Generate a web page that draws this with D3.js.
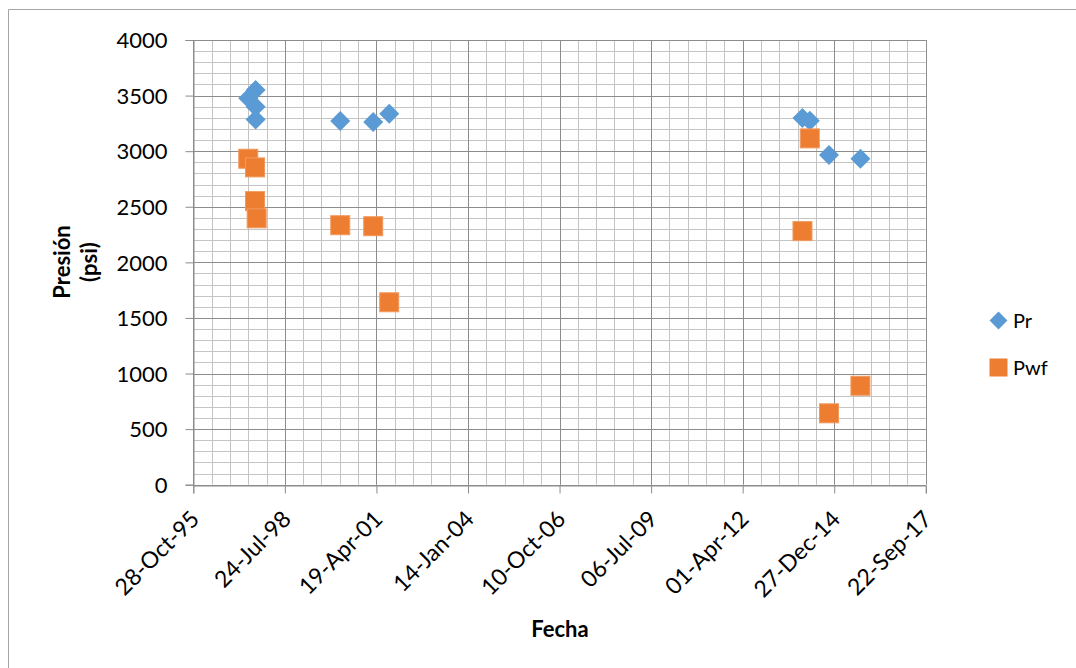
<!DOCTYPE html>
<html>
<head>
<meta charset="utf-8">
<script src="https://cdn.jsdelivr.net/npm/d3@7"></script>
<style>
  html, body { margin: 0; padding: 0; background: #fff; }
  svg { display: block; }
</style>
</head>
<body>
<svg id="chart" width="1076" height="668"></svg>
<script>
// ---- Data ----
const prDates  = ["1997-06-19","1997-09-08","1997-09-08","1997-09-08","2000-03-20","2001-03-15","2001-09-06","2014-01-14","2014-04-04","2014-10-31","2015-10-09"];
const prValues = [3475, 3550, 3400, 3286, 3271, 3262, 3336, 3298, 3273, 2965, 2932];

const pwfDates  = ["1997-06-19","1997-09-01","1997-09-01","1997-09-19","2000-03-20","2001-03-15","2001-09-06","2014-04-04","2014-01-14","2014-10-31","2015-10-09"];
const pwfValues = [2932, 2854, 2551, 2396, 2334, 2325, 1641, 3115, 2281, 642, 890];

const seriesNames = ["Pr", "Pwf"];
const xStart = "1995-10-28";
const xMajorDays = 1000, xMinorDays = 200, xSteps = 8;
const yTicks = [0, 500, 1000, 1500, 2000, 2500, 3000, 3500, 4000];
const yMinorStep = 100;
const xTitle = "Fecha";
const yTitleLines = ["Presión", "(psi)"];

(function () {
// ---- Setup ----
const parse = d3.utcParse("%Y-%m-%d");
const fmt = d3.utcFormat("%d-%b-%y");
const svg = d3.select("#chart");
const font = "Lato, 'Liberation Sans', Arial, sans-serif";

const pL = 193.3, pR = 925.8, pT = 40, pB = 484.7;
const x0 = parse(xStart);
const x1 = d3.utcDay.offset(x0, xMajorDays * xSteps);
const x = d3.scaleUtc().domain([x0, x1]).range([pL, pR]);
const y = d3.scaleLinear().domain([0, 4000]).range([pB, pT]);

// chart border (left + top visible)
svg.append("path").attr("d", "M8.5,668 V9.5 H1076")
  .attr("fill", "none").attr("stroke", "#a6a6a6").attr("stroke-width", 1);

const xMinor = d3.range(0, xMajorDays * xSteps + 1, xMinorDays).map(d => d3.utcDay.offset(x0, d));
const xMajor = d3.range(0, xMajorDays * xSteps + 1, xMajorDays).map(d => d3.utcDay.offset(x0, d));
const yMinor = d3.range(0, 4001, yMinorStep);

const g = svg.append("g");
g.selectAll(".vminor").data(xMinor).join("line")
  .attr("x1", d => Math.round(x(d)) + 0.5).attr("x2", d => Math.round(x(d)) + 0.5)
  .attr("y1", pT).attr("y2", pB)
  .attr("stroke", "#c4c4c4").attr("stroke-width", 1);
g.selectAll(".hminor").data(yMinor).join("line")
  .attr("x1", pL).attr("x2", pR)
  .attr("y1", d => Math.round(y(d)) + 0.5).attr("y2", d => Math.round(y(d)) + 0.5)
  .attr("stroke", "#c4c4c4").attr("stroke-width", 1);
const g2 = svg.append("g");
g2.selectAll(".vmajor").data(xMajor).join("line")
  .attr("x1", d => Math.round(x(d)) + 0.5).attr("x2", d => Math.round(x(d)) + 0.5)
  .attr("y1", pT).attr("y2", pB)
  .attr("stroke", "#8c8c8c").attr("stroke-width", 1);
g2.selectAll(".hmajor").data(yTicks).join("line")
  .attr("x1", pL).attr("x2", pR)
  .attr("y1", d => Math.round(y(d)) + 0.5).attr("y2", d => Math.round(y(d)) + 0.5)
  .attr("stroke", "#8c8c8c").attr("stroke-width", 1);

// Y axis
const yAxis = svg.append("g")
  .attr("transform", `translate(${Math.round(pL) + 0.5},0)`)
  .call(d3.axisLeft(y).tickValues(yTicks).tickSize(8).tickPadding(18).tickFormat(d3.format("d")));
yAxis.selectAll("path.domain").attr("stroke", "#8c8c8c");
yAxis.selectAll(".tick line").attr("stroke", "#8c8c8c");
yAxis.selectAll(".tick text").attr("font-family", font).attr("font-size", 22).attr("fill", "#000")
  .attr("dy", "0.35em");

// X axis
const xAxis = svg.append("g")
  .attr("transform", `translate(0,${Math.round(pB) + 0.5})`)
  .call(d3.axisBottom(x).tickValues(xMajor).tickSize(8).tickFormat(fmt));
xAxis.selectAll("path.domain").attr("stroke", "#8c8c8c");
xAxis.selectAll(".tick line").attr("stroke", "#8c8c8c");
xAxis.selectAll(".tick text")
  .attr("font-family", font).attr("font-size", 23).attr("fill", "#000")
  .attr("text-anchor", "end")
  .attr("x", 0).attr("y", 0).attr("dy", 0)
  .attr("transform", "translate(7,35) rotate(-45)");

// Series
const pr = prDates.map((d, i) => ({ date: parse(d), value: prValues[i] }));
const pwf = pwfDates.map((d, i) => ({ date: parse(d), value: pwfValues[i] }));

const diamond = d3.symbol().type(d3.symbolSquare).size(200);
svg.append("g").selectAll("path").data(pr).join("path")
  .attr("d", diamond)
  .attr("transform", d => `translate(${x(d.date)},${y(d.value)}) rotate(45)`)
  .attr("fill", "#5b9bd5");

const sq = 19;
svg.append("g").selectAll("rect").data(pwf).join("rect")
  .attr("x", d => x(d.date) - sq / 2).attr("y", d => y(d.value) - sq / 2)
  .attr("width", sq).attr("height", sq)
  .attr("fill", "#ed7d31").attr("stroke", "#f19a5f").attr("stroke-width", 1);

// Axis titles
svg.append("text").attr("x", 560).attr("y", 637).attr("text-anchor", "middle")
  .attr("font-family", font).attr("font-weight", "bold").attr("font-size", 22)
  .text(xTitle);

const yt = svg.append("text").attr("transform", "translate(70,262) rotate(-90)")
  .attr("text-anchor", "middle").attr("font-family", font).attr("font-weight", "bold").attr("font-size", 22);
yt.selectAll("tspan").data(yTitleLines).join("tspan")
  .attr("x", 0).attr("dy", (d, i) => i === 0 ? 0 : 27).text(d => d);

// Legend
const leg = svg.append("g");
const legY = [320.5, 367.5];
leg.append("path").attr("d", d3.symbol().type(d3.symbolSquare).size(160))
  .attr("transform", `translate(998.5,${legY[0]}) rotate(45)`).attr("fill", "#5b9bd5");
leg.append("rect").attr("x", 989.5).attr("y", legY[1] - 9).attr("width", 18).attr("height", 18)
  .attr("fill", "#ed7d31");
leg.selectAll("text").data(seriesNames).join("text")
  .attr("x", 1013).attr("y", (d, i) => legY[i] + 7)
  .attr("font-family", font).attr("font-size", 20).attr("fill", "#000")
  .text(d => d);
})();
</script>
</body>
</html>
